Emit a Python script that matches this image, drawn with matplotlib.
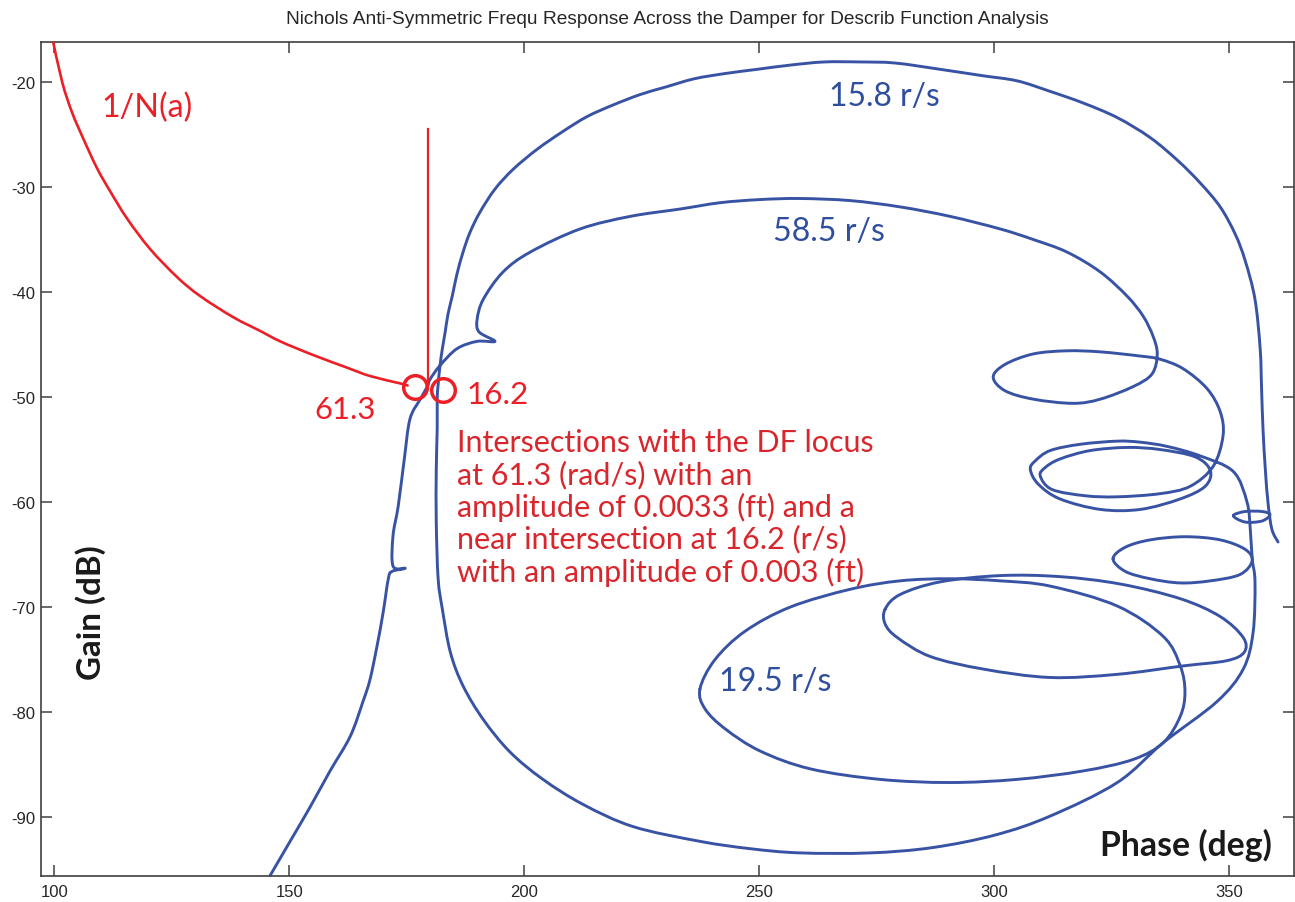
import numpy as np
import matplotlib
matplotlib.use("Agg")
import matplotlib.pyplot as plt
from matplotlib.path import Path
from matplotlib.patches import PathPatch

plt.rcParams["axes.unicode_minus"] = False

# ---------------- data (phase deg, gain dB) ----------------
title = "Nichols Anti-Symmetric Frequ Response Across the Damper for Describ Function Analysis"
x_ticks = [100, 150, 200, 250, 300, 350]
y_ticks = [-90, -80, -70, -60, -50, -40, -30, -20]

# describing function locus 1/N(a)
red_locus = np.array([
    (99.6, -15.8), (101.7, -20.0), (103.8, -22.9), (106.2, -25.4), (109.1, -28.2),
    (111.9, -30.4), (115.5, -33.0), (120.4, -35.9), (126.2, -38.6), (131.1, -40.4),
    (138.1, -42.4), (143.8, -43.7), (148.1, -44.7), (155.1, -46.0), (162.3, -47.2),
    (167.2, -48.0), (173.6, -48.7), (175.2, -48.9)])
red_marker_line = np.array([(179.6, -24.5), (179.6, -49.2)])
intersections = np.array([(176.8, -49.0), (182.8, -49.3)])

# main frequency-response path (low -> high frequency)
main_path = np.array([
    (360.4, -63.8), (359.1, -62.6), (358.3, -60.2), (357.7, -56.9), (357.2, -53.0),
    (356.9, -49.2), (356.6, -45.4), (355.5, -40.7), (353.4, -37.0), (351.3, -34.5),
    (348.1, -31.9), (343.8, -29.6), (339.1, -27.5), (333.2, -25.3), (326.2, -23.4),
    (318.9, -22.0), (311.9, -20.9), (304.9, -19.9), (297.4, -19.4), (288.5, -18.8),
    (278.9, -18.2), (271.5, -18.1), (263.8, -18.1), (256.6, -18.4), (249.6, -18.8),
    (242.8, -19.2), (236.2, -19.7), (230.0, -20.5), (224.7, -21.2), (218.9, -22.2),
    (213.4, -23.3), (208.3, -24.7), (202.8, -26.4), (197.7, -28.3), (193.8, -30.2),
    (190.6, -32.4), (188.5, -34.3), (187.0, -36.2), (185.7, -38.3), (184.7, -40.4),
    (183.8, -42.1), (183.2, -43.8), (182.6, -45.4), (182.1, -47.0), (181.7, -48.8),
    (181.5, -50.2), (181.5, -53.0), (181.3, -56.9), (181.3, -61.9), (181.7, -67.3),
    (182.6, -70.2), (184.3, -74.3), (187.0, -77.5), (191.3, -80.7), (197.0, -83.8),
    (204.0, -86.4), (212.6, -88.8), (223.2, -90.9), (237.4, -92.3), (248.1, -93.0),
    (258.7, -93.4), (273.6, -93.4), (286.8, -92.9), (300.2, -91.7), (311.9, -89.9),
    (326.2, -86.7), (336.0, -82.9), (347.4, -79.0), (353.0, -75.9), (355.1, -72.4),
    (355.5, -67.6), (354.9, -65.4), (354.5, -62.6), (353.8, -60.0), (350.9, -57.1),
    (343.8, -55.6), (336.8, -54.7),
    (331.1, -54.3), (326.2, -54.2), (318.3, -54.5), (311.9, -55.1), (308.7, -56.1),
    (307.7, -56.9), (309.4, -58.3), (314.0, -59.7), (322.6, -60.7), (331.1, -60.7),
    (339.6, -59.7), (344.9, -58.5), (346.0, -57.0), (342.8, -55.7), (335.3, -55.0),
    (328.3, -54.8), (320.4, -55.1), (314.0, -55.9), (310.9, -56.7), (309.8, -57.5),
    (312.3, -58.8), (319.4, -59.4), (326.2, -59.5), (335.3, -59.2), (341.7, -58.5),
    (346.6, -56.6), (348.7, -53.7), (348.1, -51.4), (345.3, -49.2), (340.2, -47.3),
    (335.3, -46.4),
    (331.1, -46.1), (322.6, -45.7), (315.5, -45.6), (308.3, -45.9), (302.3, -46.9),
    (299.8, -48.1), (302.3, -49.4), (308.3, -50.2), (316.8, -50.6), (322.6, -50.2),
    (329.6, -49.0), (333.6, -47.8), (334.7, -45.9),
    (333.8, -44.2), (331.7, -42.3), (328.3, -40.4), (322.6, -38.1), (315.5, -36.2),
    (308.3, -35.0), (301.3, -34.0), (290.6, -32.8), (280.0, -31.9), (269.4, -31.3),
    (258.7, -31.1), (250.2, -31.2), (241.7, -31.5), (233.2, -32.1), (222.6, -32.8),
    (211.9, -34.0), (201.3, -36.2), (195.5, -38.1), (191.3, -40.7), (190.0, -42.6),
    (190.4, -43.8), (193.8, -44.7),
    (190.0, -44.7), (185.7, -45.4), (182.1, -47.0), (180.0, -48.3), (179.4, -49.0),
    (177.9, -50.2), (175.7, -52.1), (174.5, -55.9), (173.2, -60.4), (172.1, -63.2),
    (172.1, -66.1), (174.7, -66.3), (171.9, -66.6), (171.1, -67.3), (170.0, -70.5),
    (168.7, -73.7), (167.2, -76.9), (165.7, -79.0), (163.0, -82.3), (158.7, -85.6),
    (154.5, -89.0), (150.2, -92.3), (145.5, -95.9)])

# lower loops of the locus (closed)
loop_19_5 = np.array([
    (237.4, -77.8), (240.6, -75.0), (247.0, -72.3), (256.6, -70.0), (269.4, -68.3),
    (280.0, -67.5), (290.6, -67.3), (301.3, -67.5), (311.9, -68.0), (326.2, -69.9),
    (336.0, -72.8), (339.6, -75.6), (340.6, -78.1), (339.6, -80.4), (336.0, -82.9),
    (329.6, -84.5), (318.9, -85.6), (304.9, -86.4), (290.6, -86.7), (275.7, -86.4),
    (260.9, -85.4), (250.2, -83.7), (242.8, -81.6), (238.5, -79.7)])
loop_70 = np.array([
    (276.8, -70.2), (280.0, -68.8), (288.5, -67.6), (301.3, -67.0), (314.0, -67.1),
    (326.8, -67.8), (339.6, -69.2), (348.1, -70.9), (353.0, -72.9), (353.2, -74.3),
    (349.5, -75.1), (340.2, -75.6), (326.2, -76.4), (311.9, -76.7), (297.7, -75.9),
    (286.4, -74.7), (279.4, -72.9), (276.8, -71.6)])
loop_65 = np.array([
    (325.3, -65.4), (327.9, -64.3), (333.2, -63.6), (340.6, -63.3), (348.1, -63.6),
    (353.4, -64.5), (354.9, -65.6), (352.3, -66.9), (346.0, -67.5), (339.6, -67.7),
    (333.2, -67.3), (327.9, -66.6)])
loop_61 = np.array([
    (350.9, -61.3), (353.4, -60.9), (357.0, -60.9), (358.7, -61.2), (357.0, -61.8),
    (353.4, -61.9)])

blue_labels = ["15.8 r/s", "58.5 r/s", "19.5 r/s"]
red_labels = ["1/N(a)", "61.3", "16.2"]
note_lines = ["Intersections with the DF locus",
              "at 61.3 (rad/s) with an",
              "amplitude of 0.0033 (ft) and a",
              "near intersection at 16.2 (r/s)",
              "with an amplitude of 0.003 (ft)"]

# ---------------- styling ----------------
BLUE = "#3953a4"
BLUE_TXT = "#2f4f9e"
RED = "#ec1f27"
RED_TXT = "#d9262c"
AXC = "#404040"
LABEL_FONT = ["Lato", "DejaVu Sans"]

fig = plt.figure(figsize=(12.95, 9.03), dpi=100)
W, H = 1295, 903
ax = fig.add_axes([41 / W, (H - 877) / H, (1294 - 41) / W, (877 - 43) / H])
ax.set_xlim(97.2, 363.8)
ax.set_ylim(-95.6, -16.2)


def smooth_patch(pts, closed, **kw):
    """Smooth Bezier path through the read points (Catmull-Rom tangents)."""
    n = len(pts)
    verts = [pts[0]]
    codes = [Path.MOVETO]
    segs = n if closed else n - 1
    for i in range(segs):
        if closed:
            p0, p1, p2, p3 = pts[(i - 1) % n], pts[i], pts[(i + 1) % n], pts[(i + 2) % n]
        else:
            p0 = pts[i - 1] if i > 0 else pts[i]
            p1, p2 = pts[i], pts[i + 1]
            p3 = pts[i + 2] if i + 2 < n else pts[i + 1]
        c1 = p1 + (p2 - p0) / 6.0
        c2 = p2 - (p3 - p1) / 6.0
        verts += [c1, c2, p2]
        codes += [Path.CURVE4] * 3
    return PathPatch(Path(np.array(verts), codes), fill=False, **kw)


for seg, closed in ((main_path, False), (loop_19_5, True), (loop_70, True),
                    (loop_65, True), (loop_61, True)):
    ax.add_patch(smooth_patch(seg, closed, edgecolor=BLUE, lw=2.1,
                              joinstyle="round", capstyle="round", zorder=2))

ax.add_patch(smooth_patch(red_locus, False, edgecolor=RED, lw=1.9,
                          joinstyle="round", capstyle="round", zorder=3))
ax.plot(red_marker_line[:, 0], red_marker_line[:, 1], color=RED, lw=1.6, zorder=3)
ax.plot(intersections[:, 0], intersections[:, 1], ls="none", marker="o", ms=17,
        mfc="none", mec=RED, mew=2.5, zorder=4)

ax.set_xticks(x_ticks)
ax.set_yticks(y_ticks)
ax.tick_params(direction="in", length=8, width=1.1, color=AXC, top=True, right=True,
               labelsize=12, labelcolor="#262626")
ax.tick_params(axis="x", pad=6)
ax.tick_params(axis="y", pad=4)
for lab in ax.get_xticklabels() + ax.get_yticklabels():
    lab.set_fontfamily(["Liberation Sans", "DejaVu Sans"])
for sp in ax.spines.values():
    sp.set_color(AXC)
    sp.set_linewidth(1.2)

texts = []
t_title = fig.text(667 / W, 1 - 20 / H, title, ha="center", va="center",
                   fontsize=13, color="#262626", family=["Liberation Sans", "DejaVu Sans"])
texts.append((t_title, 762, "w"))


def tx(x, y, s, color, target, **kw):
    t = ax.text(x, y, s, color=color, family=LABEL_FONT, fontsize=20, **kw)
    texts.append((t, target, "w"))
    return t


tx(119.8, -22.4, red_labels[0], RED, 91, ha="center", va="center")
tx(161.9, -51.1, red_labels[1], RED, 61, ha="center", va="center")
tx(194.3, -49.7, red_labels[2], RED, 62, ha="center", va="center")
tx(276.6, -21.3, blue_labels[0], BLUE_TXT, 111, ha="center", va="center")
tx(264.9, -34.2, blue_labels[1], BLUE_TXT, 112, ha="center", va="center")
tx(253.4, -77.0, blue_labels[2], BLUE_TXT, 113, ha="center", va="center")

note_y = [-55.1, -58.2, -61.3, -64.3, -67.5]
note_objs = []
for s, yv in zip(note_lines, note_y):
    t = ax.text(185.7, yv, s, color=RED_TXT, family=LABEL_FONT, fontsize=20,
                ha="left", va="baseline")
    note_objs.append(t)

t_px = ax.text(359.1, -92.6, "Phase (deg)", color="#1a1a1a", family=LABEL_FONT,
               fontsize=20, fontweight="bold", ha="right", va="center")
texts.append((t_px, 172, "w"))
t_gy = ax.text(107.7, -70.4, "Gain (dB)", color="#1a1a1a", family=LABEL_FONT,
               fontsize=20, fontweight="bold", ha="center", va="center", rotation=90)
texts.append((t_gy, 135, "h"))

# fit font sizes to measured text extents
fig.canvas.draw()
r = fig.canvas.get_renderer()
for t, target, dim in texts:
    bb = t.get_window_extent(renderer=r)
    cur = bb.width if dim == "w" else bb.height
    t.set_fontsize(t.get_fontsize() * target / cur)
bb = note_objs[0].get_window_extent(renderer=r)
fs = note_objs[0].get_fontsize() * 419 / bb.width
for t in note_objs:
    t.set_fontsize(fs)

fig.savefig("out.png", dpi=100)
